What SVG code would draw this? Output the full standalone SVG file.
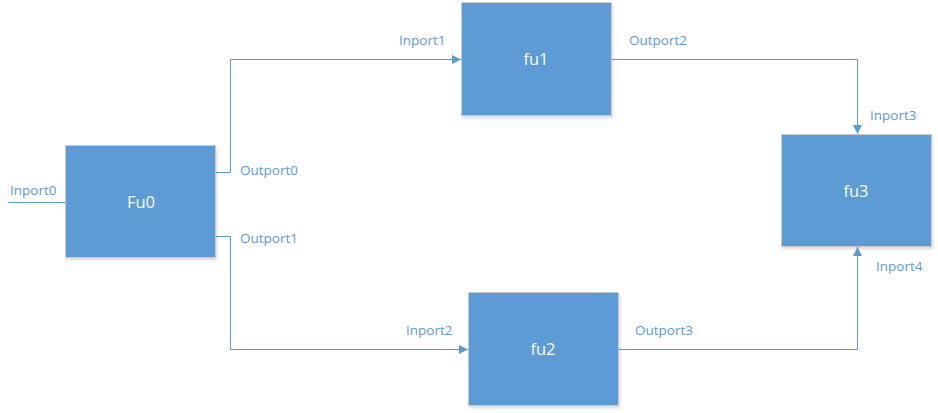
<svg xmlns="http://www.w3.org/2000/svg" width="938" height="413" viewBox="0 0 938 413">
<style>
.box{fill:#5b9bd5;stroke:#c8ccd0;stroke-width:1}
.lbl{font-family:"Open Sans","Liberation Sans",sans-serif;font-size:16.5px;fill:#ffffff;text-anchor:middle;dominant-baseline:central}
.port{font-family:"Open Sans","Liberation Sans",sans-serif;font-size:13.5px;fill:#5b9bd5}
.conn{fill:none;stroke:#5b9bd5;stroke-width:1}
</style>
<defs>
<marker id="arr" viewBox="0 0 10 10" refX="10" refY="5" markerWidth="9" markerHeight="9" markerUnits="userSpaceOnUse" orient="auto">
<path d="M0,0 L10,5 L0,10 Z" fill="#5b9bd5"/>
</marker>
<filter id="sh" x="-5%" y="-5%" width="115%" height="115%">
<feDropShadow dx="1" dy="2" stdDeviation="1.5" flood-color="#000" flood-opacity="0.15"/>
</filter>
</defs>
<g id="connectors">
<path class="conn" d="M8,202.5 H65"/>
<path class="conn" d="M216,172.5 H230.5 V59.5 H461" marker-end="url(#arr)"/>
<path class="conn" d="M216,236.5 H230.5 V349.5 H468" marker-end="url(#arr)"/>
<path class="conn" d="M612,59.5 H857.5 V134" marker-end="url(#arr)"/>
<path class="conn" d="M619,349.5 H857.5 V247" marker-end="url(#arr)"/>
<text class="port" x="10" y="195">Inport0</text>
<text class="port" x="240" y="175">Outport0</text>
<text class="port" x="240" y="243">Outport1</text>
<text class="port" x="399" y="45">Inport1</text>
<text class="port" x="629" y="45">Outport2</text>
<text class="port" x="406" y="335">Inport2</text>
<text class="port" x="635" y="335">Outport3</text>
<text class="port" x="870" y="120">Inport3</text>
<text class="port" x="876" y="271">Inport4</text>
</g>
<g id="Fu0"><rect class="box" x="65.5" y="145.5" width="150" height="112" filter="url(#sh)"/><text class="lbl" x="141" y="201">Fu0</text></g>
<g id="fu1"><rect class="box" x="461.5" y="2.5" width="150" height="113" filter="url(#sh)"/><text class="lbl" x="536" y="58">fu1</text></g>
<g id="fu2"><rect class="box" x="468.5" y="292.5" width="150" height="113" filter="url(#sh)"/><text class="lbl" x="543" y="348">fu2</text></g>
<g id="fu3"><rect class="box" x="781.5" y="134.5" width="150" height="112" filter="url(#sh)"/><text class="lbl" x="856" y="190">fu3</text></g>
</svg>
